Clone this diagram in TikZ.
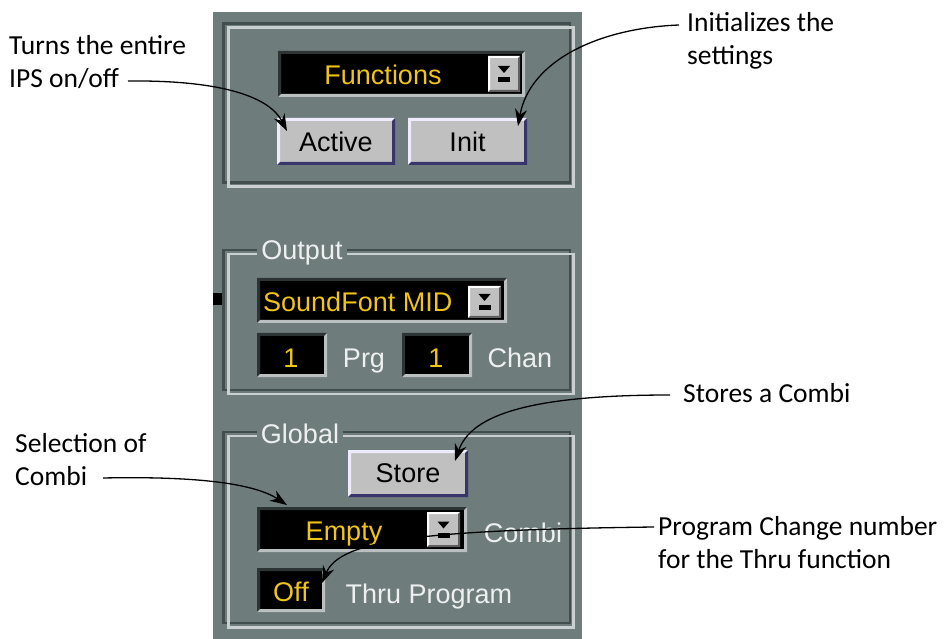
\documentclass[tikz,border=0pt]{standalone}
\usepackage{fontspec}
\setmainfont{Carlito}
\newfontfamily\uifont{Liberation Sans}
\usetikzlibrary{arrows.meta}

\definecolor{panel}{RGB}{111,124,124}
\definecolor{etchdark}{RGB}{66,78,78}
\definecolor{etchlight}{RGB}{202,208,208}
\definecolor{btnface}{RGB}{192,192,192}
\definecolor{btnhi}{RGB}{238,236,252}
\definecolor{btnlo}{RGB}{56,52,108}
\definecolor{lcdtext}{RGB}{240,196,24}
\definecolor{uitext}{RGB}{238,240,240}
\definecolor{wellhi}{RGB}{186,192,192}
\definecolor{welllo}{RGB}{44,52,52}
\definecolor{dropdark}{RGB}{96,96,96}

\tikzset{
  raised/.style={draw=none, fill=btnface, inner sep=0pt, text=black,
    font=\uifont\fontsize{27}{27}\selectfont,
    path picture={
      \fill[btnhi] (path picture bounding box.south west) -- (path picture bounding box.north west)
        -- (path picture bounding box.north east) -- ([shift={(-3,3)}]path picture bounding box.north east)
        -- ([shift={(3,3)}]path picture bounding box.north west) -- ([shift={(3,-3)}]path picture bounding box.south west) -- cycle;
      \fill[btnlo] (path picture bounding box.south west) -- (path picture bounding box.south east)
        -- (path picture bounding box.north east) -- ([shift={(-3,3)}]path picture bounding box.north east)
        -- ([shift={(-3,-3)}]path picture bounding box.south east) -- ([shift={(3,-3)}]path picture bounding box.south west) -- cycle;
    }},
  well/.style={draw=none, fill=black, inner sep=0pt,
    path picture={
      \fill[welllo] (path picture bounding box.south west) -- (path picture bounding box.north west)
        -- (path picture bounding box.north east) -- ([shift={(-3,3)}]path picture bounding box.north east)
        -- ([shift={(3,3)}]path picture bounding box.north west) -- ([shift={(3,-3)}]path picture bounding box.south west) -- cycle;
      \fill[wellhi] (path picture bounding box.south west) -- (path picture bounding box.south east)
        -- (path picture bounding box.north east) -- ([shift={(-3,3)}]path picture bounding box.north east)
        -- ([shift={(-3,-3)}]path picture bounding box.south east) -- ([shift={(3,-3)}]path picture bounding box.south west) -- cycle;
    }},
  dropbtn/.style={draw=none, fill=btnface, inner sep=0pt,
    path picture={
      \fill[white] (path picture bounding box.south west) -- (path picture bounding box.north west)
        -- (path picture bounding box.north east) -- ([shift={(-2,2)}]path picture bounding box.north east)
        -- ([shift={(2,2)}]path picture bounding box.north west) -- ([shift={(2,-2)}]path picture bounding box.south west) -- cycle;
      \fill[dropdark] (path picture bounding box.south west) -- (path picture bounding box.south east)
        -- (path picture bounding box.north east) -- ([shift={(-2,2)}]path picture bounding box.north east)
        -- ([shift={(-2,-2)}]path picture bounding box.south east) -- ([shift={(2,-2)}]path picture bounding box.south west) -- cycle;
      \fill[black] ([shift={(-6,-8)}]path picture bounding box.center) -- ([shift={(6,-8)}]path picture bounding box.center)
        -- ([shift={(0,-1)}]path picture bounding box.center) -- cycle;
      \fill[black] ([shift={(-6,3)}]path picture bounding box.center) rectangle ([shift={(6,8)}]path picture bounding box.center);
    }},
  lcd/.style={text=lcdtext, inner sep=0pt, anchor=base, font=\uifont\fontsize{27}{27}\selectfont},
  uilbl/.style={text=uitext, inner sep=0pt, anchor=base, font=\uifont\fontsize{27}{27}\selectfont},
  grouplabel/.style={uilbl, fill=panel, inner xsep=4pt, inner ysep=1pt},
  etchd/.style={draw=etchdark, line width=2.5pt},
  etchl/.style={draw=etchlight, line width=2.5pt},
  % the base anchor of a two-line note is the baseline of its last line
  note/.style={inner sep=0pt, anchor=base west, align=left, text=black,
    font=\fontsize{27.5}{33}\selectfont},
  leader/.style={draw=black, line width=1.3pt, -{Stealth[length=17pt,width=12pt]}},
}

\begin{document}
\begin{tikzpicture}[x=1pt,y=-1pt]
\path[use as bounding box] (0,0) rectangle (946,639);

% window panel and the little port stub on its left edge
\fill[panel] (213,12) rectangle (582,639);
\fill[black] (213,293) rectangle (225,305);

% etched group frames
\draw[etchd] (223.5,23.5) rectangle (570,182.5);
\draw[etchl] (228.5,27.5) rectangle (573.5,186.5);
\draw[etchd] (223.5,250) rectangle (570,390);
\draw[etchl] (228.5,254) rectangle (573.5,394);
\draw[etchd] (223.5,432) rectangle (570,623);
\draw[etchl] (228.5,436) rectangle (573.5,627.5);

% --- Functions group
\node[well, minimum width=247pt, minimum height=46pt] (funcwell) at (401.5,74) {};
\node[dropbtn, minimum width=32pt, minimum height=36pt] (funcdrop) at (504,74) {};
\node[lcd] (functxt) at (383,85) {Functions};
\node[raised, minimum width=118pt, minimum height=47pt] (active) at (336,141.5) {Active};
\node[raised, minimum width=119pt, minimum height=47pt] (init) at (467.5,141.5) {Init};

% --- Output group
\node[grouplabel] (outlbl) at (302,260) {Output};
\node[well, minimum width=250pt, minimum height=45pt] (sfwell) at (382,300.5) {};
\node[dropbtn, minimum width=33pt, minimum height=32pt] (sfdrop) at (484.5,302) {};
\node[lcd, anchor=base west] (sftxt) at (263,312) {SoundFont MID};
\node[well, minimum width=70pt, minimum height=44pt] (prgwell) at (292,355) {};
\node[lcd] (prgval) at (291,367) {1};
\node[uilbl] (prglbl) at (364,367) {Prg};
\node[well, minimum width=70pt, minimum height=44pt] (chanwell) at (437,355) {};
\node[lcd] (chanval) at (436,367) {1};
\node[uilbl] (chanlbl) at (520,367) {Chan};

% --- Global group
\node[grouplabel] (globlbl) at (300,443) {Global};
\node[raised, minimum width=120pt, minimum height=47pt] (store) at (408,473.5) {Store};
\node[well, minimum width=210pt, minimum height=45pt] (emptywell) at (362,529.5) {};
\node[dropbtn, minimum width=33pt, minimum height=35pt] (emptydrop) at (443.5,529.5) {};
\node[lcd] (emptytxt) at (344,540) {Empty};
\node[uilbl] (combilbl) at (523,542) {Combi};
\node[well, minimum width=68pt, minimum height=44pt] (offwell) at (291,590) {};
\node[lcd] (offtxt) at (291,601) {Off};
\node[uilbl] (thrulbl) at (429,603) {Thru Program};

% --- callouts
\node[note] (noteips) at (9,88) {Turns the entire\\IPS on/off};
\node[note] (noteinit) at (687,65) {Initializes the\\settings};
\node[note] (notestore) at (683,402) {Stores a Combi};
\node[note] (notesel) at (15,485) {Selection of\\Combi};
\node[note] (notethru) at (658,568) {Program Change number\\for the Thru function};

\coordinate (ipsfrom) at (128,81);
\coordinate (ipsto) at (287,131);
\coordinate (initfrom) at (679,25);
\coordinate (initto) at (518,126);
\coordinate (storefrom) at (670,395);
\coordinate (storeto) at (455,461);
\coordinate (selfrom) at (103,478);
\coordinate (selto) at (287,505);
\coordinate (thrufrom) at (654,527);
\coordinate (thruto) at (322,583);

\draw[leader] (ipsfrom) .. controls (225,80) and (270,98) .. (ipsto);
\draw[leader] (initfrom) .. controls (600,28) and (530,60) .. (initto);
\draw[leader] (storefrom) .. controls (520,395) and (470,418) .. (storeto);
\draw[leader] (selfrom) .. controls (200,476) and (255,484) .. (selto);
\draw[leader] (thrufrom) .. controls (420,530) and (340,540) .. (thruto);
\end{tikzpicture}
\end{document}
